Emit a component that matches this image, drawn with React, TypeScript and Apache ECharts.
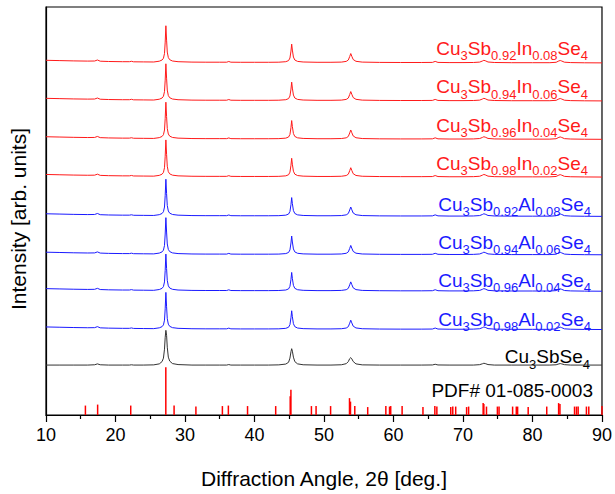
import { useEffect, useRef } from 'react';
import * as echarts from 'echarts';

// 2θ sample positions (deg.)
const twoTheta = [
  10, 12, 14, 16, 17, 17.4, 17.8, 19, 21, 22,
  22.3, 22.6, 24, 25.5, 26.3, 26.7, 26.9, 27.05, 27.15, 27.25,
  27.35, 27.45, 27.6, 27.8, 28.2, 29, 31, 33, 35, 36,
  36.3, 36.6, 38, 40, 42, 43.5, 44.5, 44.9, 45.1, 45.25,
  45.35, 45.45, 45.6, 45.8, 46.2, 47, 49, 51, 52.5, 53.2,
  53.5, 53.7, 53.85, 54.0, 54.2, 54.6, 55.5, 58, 61, 64,
  65.6, 66.0, 66.4, 68, 70, 71.5, 72.4, 72.8, 73.0, 73.2,
  73.6, 74.5, 77, 80, 82.5, 83.4, 83.8, 84.0, 84.2, 84.6,
  85.5, 87.5, 90,
];

// intensity profile of the doped samples (arb. units)
const dopedProfile = [
  2.7, 2.4, 2.1, 1.9, 2.0, 3.0, 1.8, 1.5, 1.3, 1.3,
  1.7, 1.2, 1.1, 1.0, 1.8, 3.0, 4.8, 9.5, 21, 37.5,
  23, 11, 5.5, 3.3, 2.0, 1.3, 0.9, 0.8, 0.8, 0.8,
  1.5, 0.8, 0.7, 0.7, 0.7, 0.8, 1.3, 2.4, 5, 12,
  19, 13, 6, 3, 1.6, 1.0, 0.7, 0.7, 0.9, 1.6,
  3.0, 6.5, 9.5, 6.8, 3.5, 1.7, 0.9, 0.6, 0.5, 0.5,
  0.6, 1.6, 0.6, 0.4, 0.4, 0.5, 0.9, 2.0, 2.7, 2.3,
  1.0, 0.5, 0.3, 0.3, 0.3, 0.7, 2.1, 2.5, 2.0, 0.8,
  0.4, 0.2, 0.1,
];

// intensity profile of undoped Cu3SbSe4
const undopedProfile = [
  1.0, 1.0, 1.0, 1.0, 1.3, 2.2, 1.3, 1.0, 1.0, 1.0,
  1.3, 1.0, 1.0, 1.2, 2.2, 4.5, 8, 17, 29, 36,
  31, 19, 9, 5, 2.5, 1.5, 1.0, 1.0, 1.0, 1.0,
  1.5, 1.0, 1.0, 1.0, 1.0, 1.2, 2.0, 3.8, 8, 14.5,
  17.5, 15, 9, 4.5, 2.2, 1.3, 1.0, 1.0, 1.3, 2.4,
  4.5, 7.5, 8.5, 7.3, 4.6, 2.2, 1.2, 1.0, 1.0, 1.0,
  1.1, 1.8, 1.1, 1.0, 1.0, 1.0, 1.4, 2.3, 2.8, 2.5,
  1.5, 1.0, 1.0, 1.0, 1.0, 1.3, 2.2, 2.5, 2.2, 1.4,
  1.0, 1.0, 1.0,
];

// doped samples, top to bottom
const dopants = ['In', 'In', 'In', 'In', 'Al', 'Al', 'Al', 'Al'];
const sbFractions = ['0.92', '0.94', '0.96', '0.98', '0.92', '0.94', '0.96', '0.98'];
const dopantFractions = ['0.08', '0.06', '0.04', '0.02', '0.08', '0.06', '0.04', '0.02'];
const dopedOffsets = [354.6, 316.3, 277.6, 239.6, 200, 161.3, 124.6, 86];
const undopedOffset = 49.3;

// PDF# 01-085-0003 reference lines
const pdfPositions = [
  15.67, 17.43, 22.19, 27.24, 28.43, 31.57, 35.38, 36.24, 39.0, 43.05,
  45.14, 45.24, 48.19, 48.86, 50.95, 53.67, 53.81, 54.43, 56.29, 58.9,
  59.43, 59.6, 61.24, 64.24, 65.95, 66.24, 68.24, 68.53, 68.95, 70.52,
  70.81, 72.9, 73.0, 73.38, 74.95, 75.19, 77.14, 77.67, 77.86, 79.38,
  82.05, 83.76, 83.95, 86.05, 86.33, 86.57, 87.76, 88.1, 90.0,
];
const pdfHeights = [
  9.5, 10.5, 9.5, 48, 9.5, 8.5, 9, 9.5, 9, 9,
  19, 25.5, 9, 9, 9, 17, 13.5, 9, 8, 9,
  8.5, 9, 9, 8, 9, 8.5, 8, 8.5, 8.5, 8,
  8.5, 12, 11, 8.5, 8.5, 8.5, 8.5, 8.5, 8.5, 8,
  8.5, 12, 11, 8.5, 8.5, 8.5, 8.5, 8.5, 9,
];

const xTicks = { min: 10, max: 90, interval: 10 };

const FONT = '"Liberation Sans", Arial, sans-serif';
const RED = '#ff1a1a';
const BLUE = '#1a1aff';

export default function App() {
  const ref = useRef<HTMLDivElement>(null);
  useEffect(() => {
    if (!ref.current) return;
    const chart = echarts.init(ref.current, undefined, { renderer: 'svg' });
    const ctx = document.createElement('canvas').getContext('2d')!;
    const tw = (t: string, s: number) => {
      ctx.font = `${s}px "Liberation Sans"`;
      return ctx.measureText(t).width;
    };
    const NS = 19;
    const SS = 13;
    const graphics: any[] = [];
    const addLabel = (parts: [string, boolean][], right: number, baseline: number, color: string) => {
      const total = parts.reduce((a, [t, sub]) => a + tw(t, sub ? SS : NS), 0);
      let cx = right - total;
      parts.forEach(([t, sub]) => {
        const s = sub ? SS : NS;
        const bl = sub ? baseline + 5.5 : baseline;
        graphics.push({
          type: 'text',
          x: cx,
          y: bl - 0.31 * s,
          silent: true,
          style: { text: t, fontSize: s, fontFamily: FONT, fill: color, align: 'left', verticalAlign: 'middle' },
        });
        cx += tw(t, s);
      });
    };
    const labelBaselines = [54.3, 92.7, 131, 169.3, 210, 248.5, 286.5, 325];
    const labelRights = [588, 588, 588, 588, 591, 591, 591, 591];
    dopants.forEach((d, i) => {
      addLabel(
        [['Cu', false], ['3', true], ['Sb', false], [sbFractions[i], true], [d, false], [dopantFractions[i], true], ['Se', false], ['4', true]],
        labelRights[i], labelBaselines[i], d === 'In' ? RED : BLUE,
      );
    });
    addLabel([['Cu', false], ['3', true], ['SbSe', false], ['4', true]], 590, 362.7, '#000');
    addLabel([['PDF# 01-085-0003', false]], 593, 396.7, '#000');
    graphics.push({
      type: 'text',
      x: 18,
      y: 219,
      rotation: Math.PI / 2,
      silent: true,
      style: { text: 'Intensity [arb. units]', fontSize: 21, fontFamily: FONT, fill: '#000', align: 'center', verticalAlign: 'middle' },
    });

    const series: any[] = dopants.map((d, i) => ({
      type: 'line',
      data: twoTheta.map((x, k) => [x, dopedProfile[k] + dopedOffsets[i]]),
      showSymbol: false,
      lineStyle: { width: 1, color: d === 'In' ? RED : BLUE },
      itemStyle: { color: d === 'In' ? RED : BLUE },
      silent: true,
    }));
    series.push({
      type: 'line',
      data: twoTheta.map((x, k) => [x, undopedProfile[k] + undopedOffset]),
      showSymbol: false,
      lineStyle: { width: 1, color: '#333' },
      silent: true,
    });
    series.push({
      type: 'bar',
      data: pdfPositions.map((x, k) => [x, pdfHeights[k]]),
      barWidth: 1.5,
      itemStyle: { color: '#ff0000' },
      silent: true,
    });

    chart.setOption({
      animation: false,
      backgroundColor: '#fff',
      grid: { left: 46, right: 9, top: 7, bottom: 76, show: true, borderColor: '#000', borderWidth: 1.2, backgroundColor: 'transparent' },
      xAxis: {
        type: 'value',
        min: xTicks.min,
        max: xTicks.max,
        interval: xTicks.interval,
        name: 'Diffraction Angle, 2θ [deg.]',
        nameLocation: 'middle',
        nameGap: 53,
        nameTextStyle: { fontSize: 21, fontFamily: FONT, color: '#000' },
        axisLine: { show: true, lineStyle: { color: '#000', width: 1.2 } },
        axisTick: { show: true, inside: false, length: 7, lineStyle: { color: '#000', width: 1.2 } },
        minorTick: { show: true, splitNumber: 2, length: 4, lineStyle: { color: '#000', width: 1.2 } },
        axisLabel: { fontSize: 18, fontFamily: FONT, color: '#000', margin: 11 },
        splitLine: { show: false },
      },
      yAxis: {
        type: 'value',
        min: 0,
        max: 411,
        axisLine: { show: true, lineStyle: { color: '#000', width: 1.2 } },
        axisTick: { show: false },
        axisLabel: { show: false },
        splitLine: { show: false },
      },
      series,
      graphic: graphics,
    });
    return () => chart.dispose();
  }, []);
  return <div ref={ref} style={{ width: 615, height: 494, position: 'absolute', left: 0, top: 0 }} />;
}
